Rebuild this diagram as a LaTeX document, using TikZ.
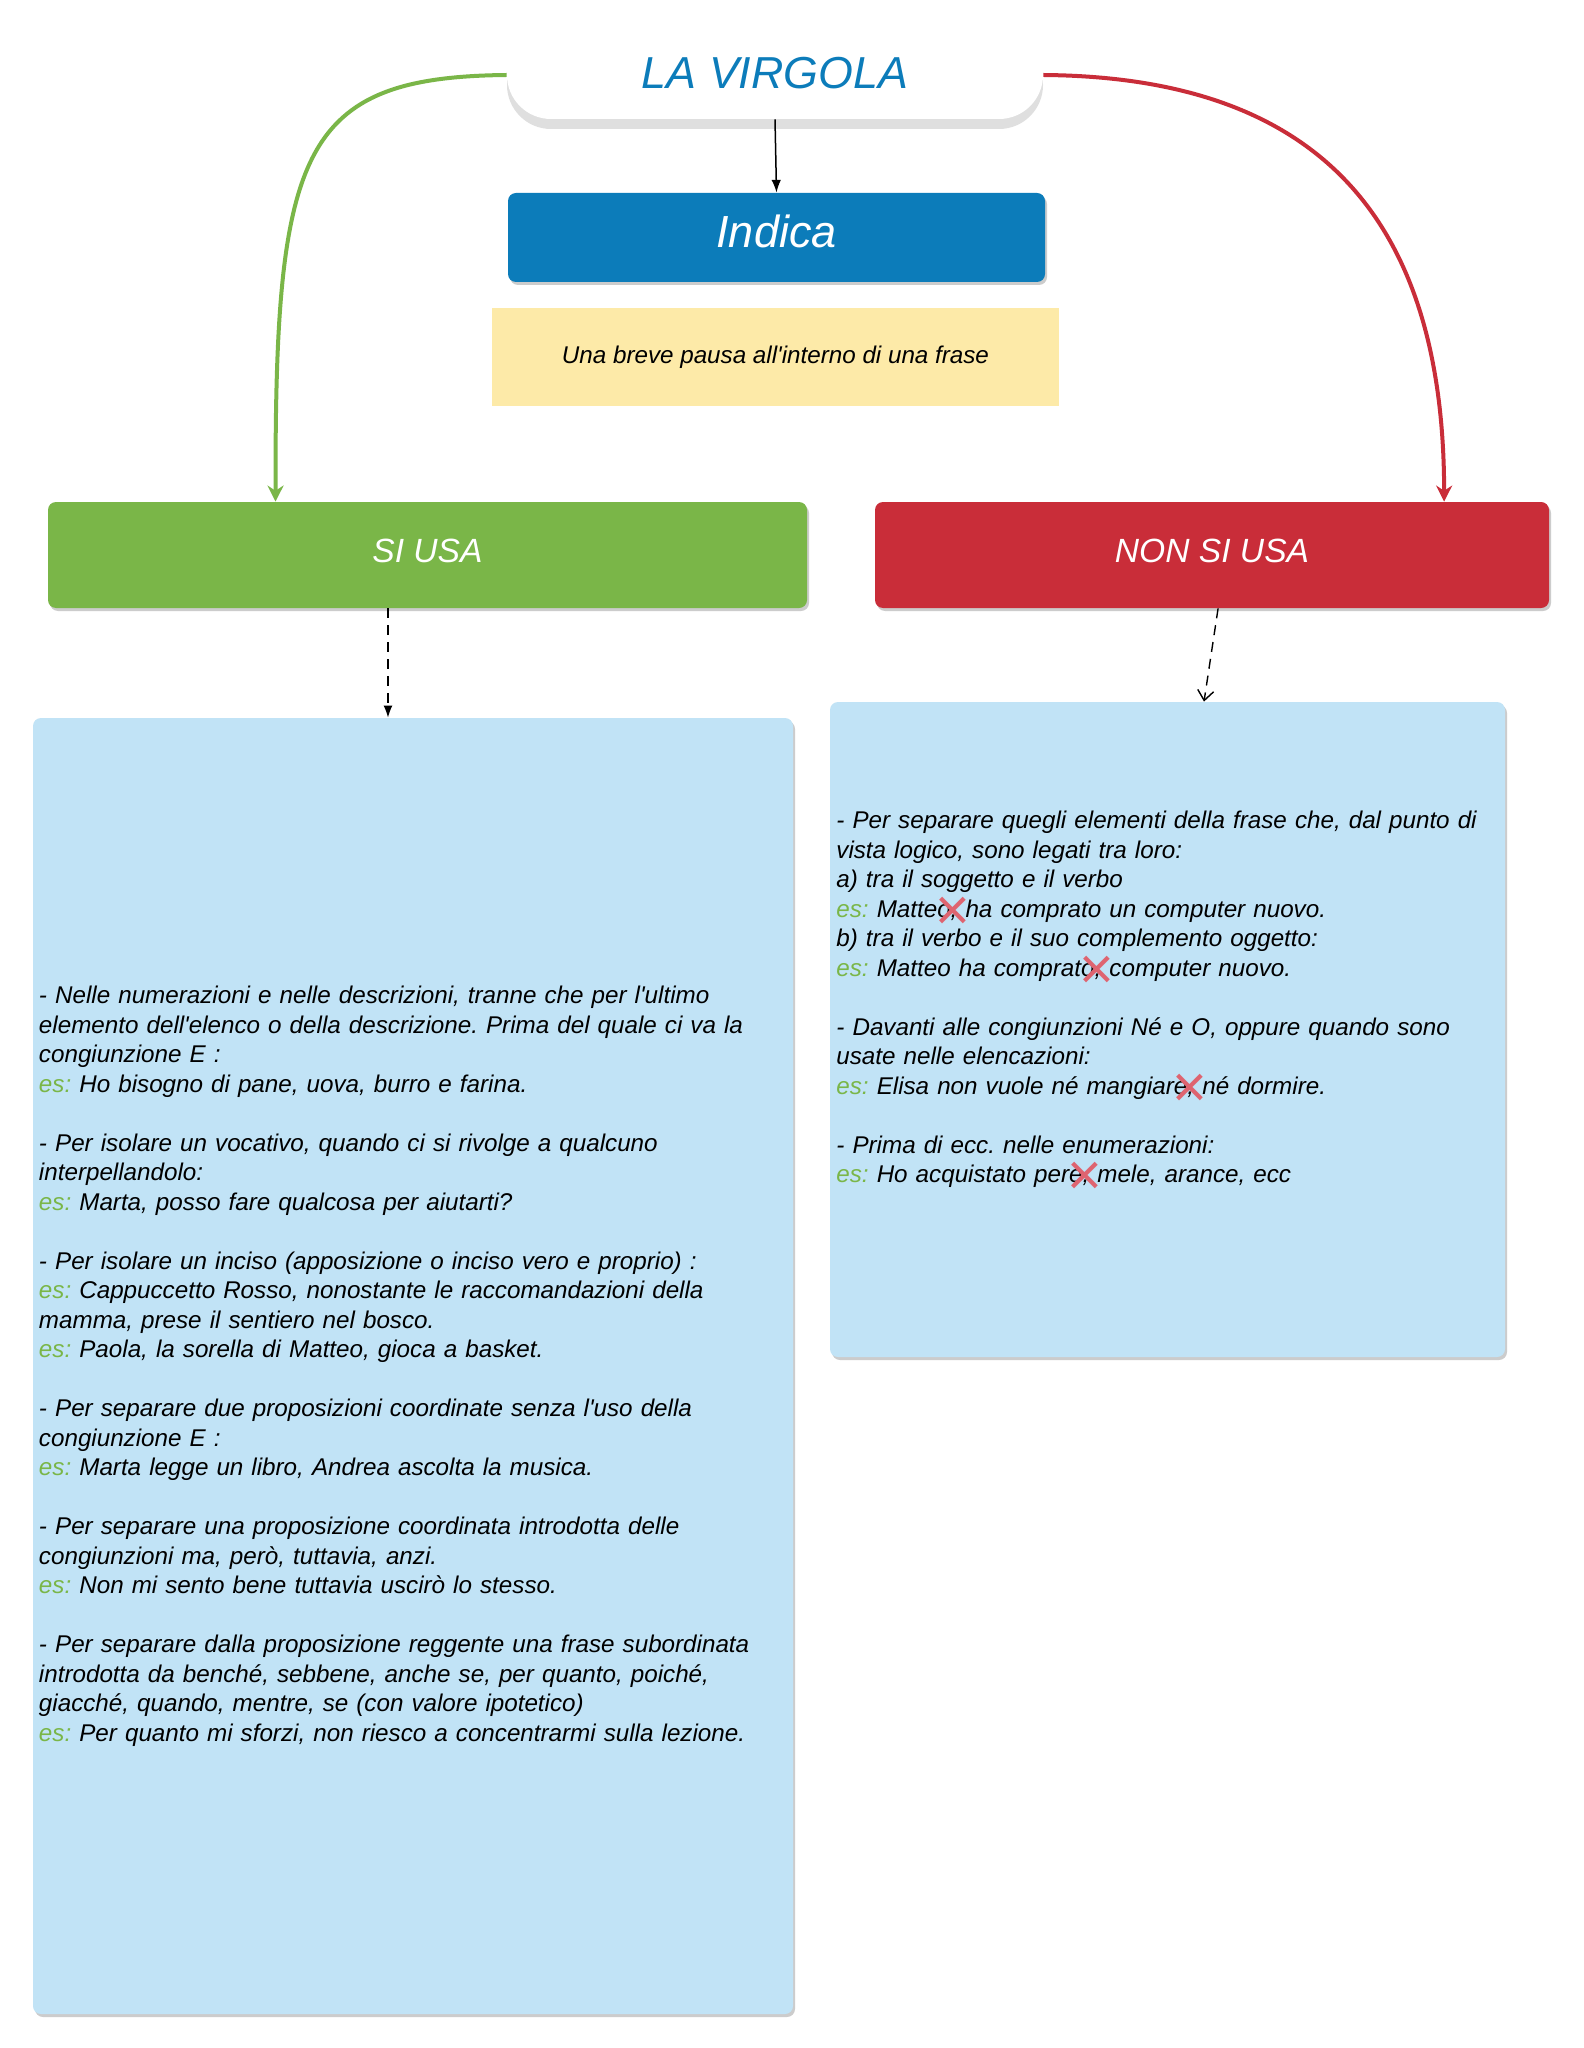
\documentclass[tikz,border=0pt]{standalone}
\usepackage{fontspec}
\setmainfont{Liberation Sans}
\usetikzlibrary{
    arrows.meta,
    positioning,
    calc,
    shadows
}
\definecolor{MapBlue}{RGB}{12,124,186}
\definecolor{MapGreen}{RGB}{122,182,72}
\definecolor{MapRed}{RGB}{201,45,57}
\definecolor{NoteYellow}{RGB}{253,234,168}
\definecolor{BoxBlue}{RGB}{193,227,246}
\definecolor{CrossRed}{RGB}{222,100,112}
\frenchspacing
\newcommand{\corpo}{\fontsize{12.1}{14.75}\selectfont\itshape}
\newcommand{\esempio}{\textcolor{MapGreen}{es:}}
\newcommand{\apo}{\textquotesingle}
\newcommand{\cancella}{\makebox[0pt]{\hspace*{-5pt}\raisebox{-6.5pt}[0pt][0pt]{\fontsize{30}{30}\selectfont\textcolor{CrossRed}{×}}}}

\begin{document}
\begin{tikzpicture}[
    x=0.5pt, y=-0.5pt,
    >=Latex,
    shade box/.style={rounded corners=4pt, inner sep=0pt,
        drop shadow={shadow xshift=1pt, shadow yshift=-1.5pt, opacity=0.4}},
    head/.style={font=\fontsize{16.8}{20}\selectfont\itshape, text=white, text depth=4pt},
    panel/.style={shade box, fill=BoxBlue, inner xsep=3pt, align=left, font=\corpo},
    link/.style={line width=0.75pt},
    dash link/.style={line width=0.7pt, dash pattern=on 5pt off 3.5pt}
]

\fill[white] (0,0) rectangle (1583,2048);
\useasboundingbox (0,0) rectangle (1583,2048);

% top of the map
\node[fill=white, rounded corners=22pt, minimum width=268pt, minimum height=44pt,
      drop shadow={shadow xshift=0pt, shadow yshift=-5pt, opacity=0.25},
      text=MapBlue, text depth=2pt, font=\fontsize{22.4}{26}\selectfont\itshape]
    (titolo) at (775,75) {LA VIRGOLA};

\node[shade box, fill=MapBlue, minimum width=268.5pt, minimum height=44.5pt,
      text=white, text depth=6pt, font=\fontsize{22.5}{26}\selectfont\itshape]
    (indica) at (776.5,237.5) {Indica};

\node[fill=NoteYellow, minimum width=283.5pt, minimum height=49pt, font=\corpo]
    (pausa) at (775.5,357) {Una breve pausa all\apo interno di una frase};

\node[shade box, head, fill=MapGreen, minimum width=379.5pt, minimum height=53pt]
    (siusa) at (427.5,555) {SI USA};
\node[shade box, head, fill=MapRed, minimum width=337pt, minimum height=53pt]
    (nonsiusa) at (1212,555) {NON SI USA};

% lists
\node[panel, minimum width=380pt, minimum height=648pt, text width=374pt]
    (listasi) at (413,1366) {%
- Nelle numerazioni e nelle descrizioni, tranne che per l\apo ultimo\\
elemento dell\apo elenco o della descrizione. Prima del quale ci va la\\
congiunzione E :\\
\esempio{} Ho bisogno di pane, uova, burro e farina.\\[14.75pt]
- Per isolare un vocativo, quando ci si rivolge a qualcuno\\
interpellandolo:\\
\esempio{} Marta, posso fare qualcosa per aiutarti?\\[14.75pt]
- Per isolare un inciso (apposizione o inciso vero e proprio) :\\
\esempio{} Cappuccetto Rosso, nonostante le raccomandazioni della\\
mamma, prese il sentiero nel bosco.\\
\esempio{} Paola, la sorella di Matteo, gioca a basket.\\[14.75pt]
- Per separare due proposizioni coordinate senza l\apo uso della\\
congiunzione E :\\
\esempio{} Marta legge un libro, Andrea ascolta la musica.\\[14.75pt]
- Per separare una proposizione coordinata introdotta delle\\
congiunzioni ma, però, tuttavia, anzi.\\
\esempio{} Non mi sento bene tuttavia uscirò lo stesso.\\[14.75pt]
- Per separare dalla proposizione reggente una frase subordinata\\
introdotta da benché, sebbene, anche se, per quanto, poiché,\\
giacché, quando, mentre, se (con valore ipotetico)\\
\esempio{} Per quanto mi sforzi, non riesco a concentrarmi sulla lezione.};

\node[shade box, fill=BoxBlue, minimum width=337.5pt, minimum height=327.5pt]
    (listanon) at (1167.5,1029.5) {};
\node[anchor=north west, inner sep=0pt, text width=330pt, align=left, font=\corpo]
    (testonon) at (836,811) {%
- Per separare quegli elementi della frase che, dal punto di\\
vista logico, sono legati tra loro:\\
a) tra il soggetto e il verbo\\
\esempio{} Matteo,\cancella{} ha comprato un computer nuovo.\\
b) tra il verbo e il suo complemento oggetto:\\
\esempio{} Matteo ha comprato,\cancella{} computer nuovo.\\[14.75pt]
- Davanti alle congiunzioni Né e O, oppure quando sono\\
usate nelle elencazioni:\\
\esempio{} Elisa non vuole né mangiare,\cancella{} né dormire.\\[14.75pt]
- Prima di ecc. nelle enumerazioni:\\
\esempio{} Ho acquistato pere,\cancella{} mele, arance, ecc};

% connectors
\draw[link, ->] (titolo.south) -- (indica.north);

\draw[MapGreen, line width=2pt, -{Stealth[length=8pt, width=8pt]}]
    (titolo.west) .. controls (300,77) and (275,150)
    .. ($(siusa.north west)!0.3!(siusa.north east)$);
\draw[MapRed, line width=2pt, -{Stealth[length=8pt, width=8pt]}]
    (titolo.east) .. controls (1300,77) and (1444,200)
    .. ($(nonsiusa.north west)!0.844!(nonsiusa.north east)$);

\coordinate (daSi) at ($(siusa.south west)!0.448!(siusa.south east)$);
\draw[dash link, -{Latex[length=6pt, width=4.5pt]}] (daSi) -- (daSi |- listasi.north);

\draw[dash link, -{Straight Barb[length=5pt, width=8pt]}]
    ($(nonsiusa.south west)!0.509!(nonsiusa.south east)$)
    -- ($(listanon.north west)!0.554!(listanon.north east)$);

\end{tikzpicture}
\end{document}
